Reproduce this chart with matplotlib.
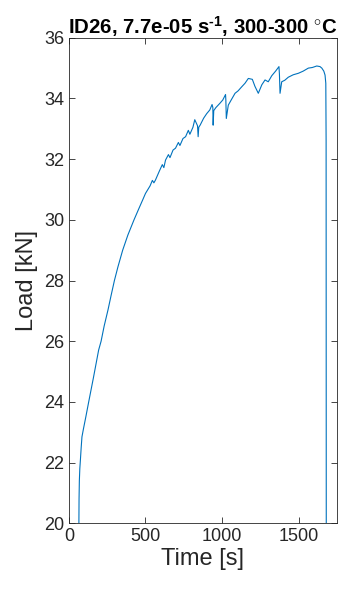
import matplotlib
matplotlib.use("Agg")
import matplotlib.pyplot as plt

plt.rcParams['font.family'] = ['Liberation Sans', 'DejaVu Sans']
plt.rcParams['mathtext.fontset'] = 'custom'
plt.rcParams['mathtext.rm'] = 'Liberation Sans:bold'
plt.rcParams['mathtext.bf'] = 'Liberation Sans:bold'
plt.rcParams['mathtext.default'] = 'bf'

# values
time = [65, 66, 68, 71, 75, 80, 85, 95, 110, 129, 160, 194, 210, 230, 255,
        275, 297, 320, 351, 385, 425, 455, 482, 500, 530, 545, 555, 565,
        590, 610, 620, 631, 650, 660, 680, 696, 715, 725, 745, 762, 780, 790,
        810, 822, 840, 844, 848, 857, 880, 900, 920, 935, 940, 942, 946, 960,
        986, 1005, 1023, 1025, 1028, 1041, 1060, 1085, 1105, 1128, 1150, 1172,
        1198, 1215, 1237, 1260, 1281, 1302, 1325, 1350, 1372, 1375, 1379, 1390,
        1410, 1433, 1465, 1499, 1530, 1564, 1590, 1619, 1640, 1652, 1665, 1673,
        1678, 1680, 1681]
load = [20.0, 20.8, 21.4, 21.8, 22.1, 22.5, 22.85, 23.12, 23.5, 24.0, 24.8,
        25.71, 26.0, 26.5, 27.03, 27.5, 28.0, 28.45, 29.0, 29.5, 30.0, 30.35,
        30.66, 30.87, 31.12, 31.3, 31.22, 31.31, 31.6, 31.82,
        31.72, 31.97, 32.15, 32.05, 32.3, 32.36, 32.55, 32.45, 32.68, 32.74,
        32.95, 32.82, 33.05, 33.3, 33.1, 32.74, 33.05, 33.12, 33.35, 33.5,
        33.62, 33.8, 33.7, 33.12, 33.6, 33.7, 33.84, 33.95, 34.13, 33.95, 33.34,
        33.78, 33.95, 34.17, 34.25, 34.38, 34.5, 34.66, 34.63, 34.4, 34.17,
        34.45, 34.61, 34.55, 34.75, 34.9, 35.05, 34.8, 34.17, 34.55, 34.6,
        34.7, 34.78, 34.83, 34.9, 35.0, 35.02, 35.07, 35.05, 35.0, 34.9, 34.77,
        34.5, 32.6, 20.0]

xticks = [0, 500, 1000, 1500]
yticks = [20, 22, 24, 26, 28, 30, 32, 34, 36]

fig = plt.figure(figsize=(3.43, 5.9), dpi=100)
ax = fig.add_axes([0.201, 0.113, 0.781, 0.823])
ax.plot(time, load, color='#0072BD', linewidth=0.8)

ax.set_xlim(0, 1750)
ax.set_ylim(20, 36)
ax.set_xticks(xticks)
ax.set_yticks(yticks)
ax.tick_params(direction='in', top=True, right=True, labelsize=13,
               colors='#262626', length=4, width=0.6)
for s in ax.spines.values():
    s.set_color('#262626')
    s.set_linewidth(0.6)

ax.set_xlabel('Time [s]', fontsize=17, color='#262626', labelpad=2)
ax.set_ylabel('Load [kN]', fontsize=17, color='#262626', labelpad=4)
ax.set_title(r'ID26, 7.7e-05 s$^{\text{-1}}$, 300-300 $^{\circ}$C',
             fontsize=14.7, fontweight='bold', pad=3)

fig.savefig('out.png', dpi=100)
